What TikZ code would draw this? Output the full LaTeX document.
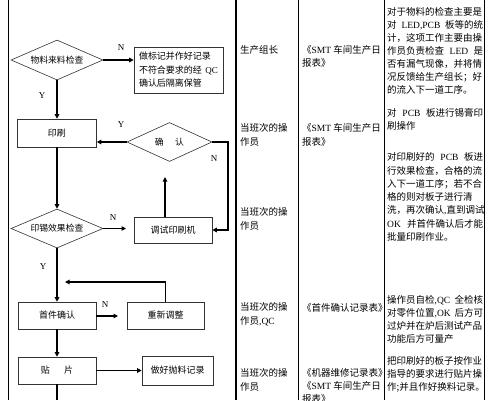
\documentclass[tikz,border=0pt]{standalone}
\usepackage{fontspec}
\setmainfont{Noto Sans CJK SC}
\newfontfamily\lat{Liberation Serif}
\usetikzlibrary{arrows.meta,shapes.geometric}
\XeTeXlinebreaklocale "zh"
\XeTeXlinebreakskip=0pt plus 3pt
\newcommand\La[1]{{\lat #1}}
\newcommand\jl[1]{\hbox to 96pt{#1}}
\newcommand\jb[1]{\hbox to 79pt{#1}}
\begin{document}
\begin{tikzpicture}[x=1pt,y=-1pt,
  tbl/.style={line width=0.9pt, black},
  arr/.style={line width=1.3pt, -{Triangle[length=4.5pt,width=4.5pt]}},
  plain/.style={line width=1.3pt},
  box/.style={draw=black!80, line width=0.6pt, rectangle, inner sep=0pt, font=\fontsize{9}{13.5}\selectfont},
  dia/.style={draw=black!80, line width=0.6pt, diamond, inner sep=0pt, shape aspect=2.3, font=\fontsize{8.8}{11}\selectfont},
  lbl/.style={font=\lat\fontsize{9}{10}\selectfont, inner sep=0pt},
  txt/.style={anchor=north west, inner sep=0pt, align=left, font=\fontsize{9.5}{13}\selectfont},
  txtb/.style={anchor=north west, inner sep=0pt, align=left, font=\fontsize{9.5}{14}\selectfont}]
\useasboundingbox (0,0) rectangle (491,400);
\fill[white] (0,0) rectangle (491,400);
% table lines
\draw[tbl] (8,0) -- (8,400);
\draw[tbl, line width=1.3pt] (236,0) -- (236,400);
\draw[tbl] (298,0) -- (298,400);
\draw[tbl] (384,0) -- (384,400);
\draw[tbl] (484,0) -- (484,400);
% flowchart nodes
\node[dia, minimum width=92pt, minimum height=40pt] (d1) at (57,60) {物料来料检查};
\node[box, minimum width=89pt, minimum height=46pt, align=left] (b1) at (178.5,70)
  {\jb{做标记并作好记录}\\\jb{不符合要求的经 \La{QC}}\\确认后隔离保管};
\node[box, minimum width=79pt, minimum height=28pt] (pr) at (57,133) {印刷};
\node[dia, minimum width=85pt, minimum height=39pt, shape aspect=2.2] (cf) at (169.5,142) {确\hspace{1.3em}认};
\node[box, minimum width=78pt, minimum height=26pt] (db) at (173,230) {调试印刷机};
\node[dia, minimum width=92pt, minimum height=39pt] (d2) at (57,228.5) {印锡效果检查};
\node[box, minimum width=78pt, minimum height=27pt] (fa) at (57,315.5) {首件确认};
\node[box, minimum width=77pt, minimum height=27pt] (rj) at (165.5,315.5) {重新调整};
\node[box, minimum width=78pt, minimum height=27pt] (sm) at (57,370.5) {贴\hspace{1.6em}片};
\node[box, minimum width=71pt, minimum height=29pt] (rc) at (177.5,370.5) {做好抛料记录};
% coordinates
\coordinate (cr) at (228,142);
\coordinate (cu) at (165,177);
\coordinate (n2) at (126,228.5);
\coordinate (n3) at (118,316);
\coordinate (ret) at (65,282);
\coordinate (bot) at (57,400);
% connectors
\draw[arr] (d1.east) -- (d1.east -| b1.west);
\draw[arr] (d1.south) -- (pr.north);
\draw[arr] (cf.west) -- (cf.west -| pr.east);
\draw[arr] (cf.east) -- (cr) |- (db.east);
\draw[arr] (db.north -| cu) -- (cu);
\draw[arr] (pr.south) -- (d2.north);
\draw[arr] (d2.east) -- (n2);
\draw[arr] (d2.south) -- (fa.north);
\draw[arr] (fa.east |- n3) -- (n3);
\draw[arr] (rj.north) |- (ret);
\draw[arr] (fa.south) -- (sm.north);
\draw[arr] (sm.east) -- (rc.west);
\draw[plain] (sm.south) -- (bot);
% Y/N labels
\node[lbl] (l1) at (121,48) {N};
\node[lbl] (l2) at (42,96) {Y};
\node[lbl] (l3) at (121,125) {Y};
\node[lbl] (l4) at (214,159) {N};
\node[lbl] (l5) at (113,218) {N};
\node[lbl] (l6) at (43,267) {Y};
\node[lbl] (l7) at (105,305) {N};
% column 2
\node[txtb] (c2a) at (240,45.5) {生产组长};
\node[txtb] (c2b) at (240,123.5) {当班次的操\\作员};
\node[txtb] (c2c) at (240,207.5) {当班次的操\\作员};
\node[txtb] (c2d) at (240,302.5) {当班次的操\\作员\La{,QC}};
\node[txtb] (c2e) at (240,368.5) {当班次的操\\作员};
% column 3
\node[txt] (c3a) at (302,45.5) {《\La{SMT} 车间生产日\\报表》};
\node[txtb] (c3b) at (302,123.5) {《\La{SMT} 车间生产日\\报表》};
\node[txt] (c3c) at (302,303.5) {《首件确认记录表》};
\node[txt] (c3d) at (302,368) {《机器维修记录表》\\《\La{SMT} 车间生产日\\报表》};
% column 4
\node[txt] (c4a) at (387,7.5) {\jl{对于物料的检查主要是}\\
  \jl{对 \La{LED,PCB} 板等的统}\\
  \jl{计，这项工作主要由操}\\
  \jl{作员负责检查 \La{LED} 是}\\
  \jl{否有漏气现像，并将情}\\
  \jl{况反馈给生产组长；好}\\
  的流入下一道工序。};
\node[txt] (c4b) at (387,108.5) {\jl{对 \La{PCB} 板进行锡膏印}\\刷操作};
\node[txt, font=\fontsize{9.5}{13.3}\selectfont] (c4c) at (387,152.5) {\jl{对印刷好的 \La{PCB} 板进}\\
  \jl{行效果检查，合格的流}\\
  \jl{入下一道工序；若不合}\\
  \jl{格的则对板子进行清}\\
  \jl{洗，再次确认\La{,}直到调试}\\
  \jl{\La{OK} 并首件确认后才能}\\
  批量印刷作业。};
\node[txt] (c4d) at (387,295.5) {\jl{操作员自检\La{,QC} 全检核}\\
  \jl{对零件位置\La{,OK} 后方可}\\
  \jl{过炉并在炉后测试产品}\\
  功能后方可量产};
\node[txt] (c4e) at (387,356.5) {\jl{把印刷好的板子按作业}\\
  \jl{指导的要求进行贴片操}\\
  作;并且作好换料记录。};
\end{tikzpicture}
\end{document}
